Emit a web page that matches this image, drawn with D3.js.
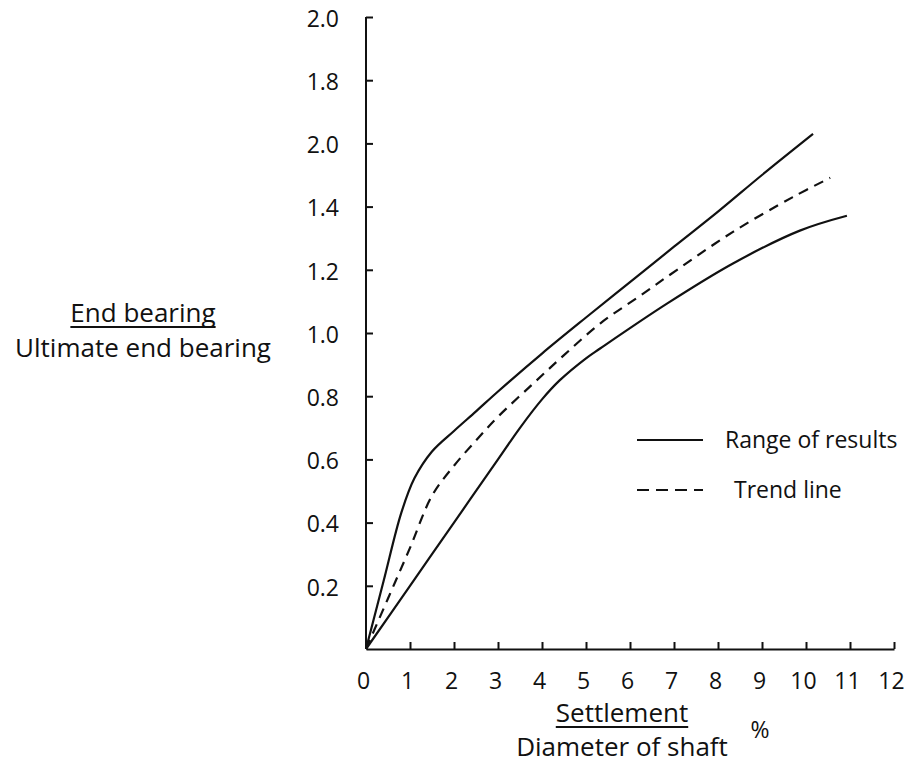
<!DOCTYPE html>
<html>
<head>
<meta charset="utf-8">
<script src="https://cdn.jsdelivr.net/npm/d3@7"></script>
<style>
  html, body { margin: 0; padding: 0; background: #fff; }
  svg { display: block; }
  text { font-family: "Open Sans", Lato, sans-serif; fill: #111; }
</style>
</head>
<body>
<svg id="chart" width="920" height="764"></svg>
<script>
// Settlement / shaft diameter (%) against mobilised end bearing ratio
const upperX = [0, 0.4, 0.8, 1.1, 1.5, 2.0, 2.5, 3.0, 4.0, 5.0, 6.0, 7.0, 8.0, 9.0, 10.16];
const upperY = [0, 0.215, 0.43, 0.54, 0.625, 0.69, 0.752, 0.815, 0.935, 1.049, 1.161, 1.273, 1.384, 1.5, 1.63];

const trendX = [0, 0.5, 1.0, 1.5, 2.0, 2.5, 3.0, 3.8, 4.5, 5.32, 6.2, 7.07, 8.34, 9.7, 10.55];
const trendY = [0, 0.16, 0.32, 0.485, 0.58, 0.66, 0.735, 0.84, 0.93, 1.03, 1.115, 1.2, 1.32, 1.43, 1.491];

const lowerX = [0, 1.0, 2.0, 3.0, 3.5, 4.0, 4.4, 5.0, 5.32, 6.84, 8.34, 9.86, 10.93];
const lowerY = [0, 0.2, 0.4, 0.6, 0.7, 0.79, 0.85, 0.92, 0.951, 1.093, 1.22, 1.324, 1.371];

const xTickValues = [0, 1, 2, 3, 4, 5, 6, 7, 8, 9, 10, 11, 12];
const yTickValues = [0.2, 0.4, 0.6, 0.8, 1.0, 1.2, 1.4, 1.6, 1.8, 2.0];
const yTickLabels = ["0.2", "0.4", "0.6", "0.8", "1.0", "1.2", "1.4", "2.0", "1.8", "2.0"];

const legendItems = [
  { label: "Range of results", dash: null, textX: 88 },
  { label: "Trend line", dash: "12,7", textX: 97 }
];

const svg = d3.select("#chart");
const x = d3.scaleLinear().domain([0, 12]).range([366, 894]);
const y = d3.scaleLinear().domain([0, 2.0]).range([649, 17]);

// y axis: ticks point inward, labels on the left
const yAxis = d3.axisLeft(y)
  .tickValues(yTickValues)
  .tickFormat((d, i) => yTickLabels[i])
  .tickSizeInner(-7)
  .tickSizeOuter(0)
  .tickPadding(27);
const gy = svg.append("g").attr("transform", `translate(${x(0)},0)`).call(yAxis);
gy.select(".domain").attr("d", `M0,${y(0)}V${y(2.0)}`);
gy.selectAll("text").style("font-size", "23px").attr("dy", "0.4em");

// x axis: ticks point upward, labels below
const xAxis = d3.axisBottom(x)
  .tickValues(xTickValues)
  .tickSizeInner(-7)
  .tickSizeOuter(0)
  .tickPadding(24);
const gx = svg.append("g").attr("transform", `translate(0,${y(0)})`).call(xAxis);
gx.selectAll("text").style("font-size", "23px").attr("dx", "-3");
gx.selectAll(".tick").filter(d => d === 0).select("line").remove();

svg.selectAll(".domain, .tick line").attr("stroke", "#111").attr("stroke-width", 2);

// curves
const line = d3.line()
  .x(d => x(d[0]))
  .y(d => y(d[1]))
  .curve(d3.curveCatmullRom.alpha(0.5));
const series = [
  { xs: upperX, ys: upperY, dash: null },
  { xs: lowerX, ys: lowerY, dash: null },
  { xs: trendX, ys: trendY, dash: "10,7" }
];
svg.append("g").selectAll("path")
  .data(series)
  .join("path")
  .attr("d", s => line(s.xs.map((v, i) => [v, s.ys[i]])))
  .attr("fill", "none")
  .attr("stroke", "#111")
  .attr("stroke-width", 2.2)
  .attr("stroke-dasharray", s => s.dash);

// legend
const lg = svg.append("g").attr("transform", "translate(637,440)");
const li = lg.selectAll("g").data(legendItems).join("g")
  .attr("transform", (d, i) => `translate(0,${i * 50})`);
li.append("line")
  .attr("x1", 0).attr("x2", 66).attr("y1", 0).attr("y2", 0)
  .attr("stroke", "#111").attr("stroke-width", 2)
  .attr("stroke-dasharray", d => d.dash);
li.append("text")
  .attr("x", d => d.textX)
  .attr("y", 0).attr("dy", "0.36em")
  .style("font-size", "23px")
  .text(d => d.label);

// axis titles (ratio written as numerator over denominator)
function ratioTitle(cx, topBaseline, gap, num, den, size) {
  const t1 = svg.append("text")
    .attr("x", cx).attr("y", topBaseline)
    .attr("text-anchor", "middle")
    .style("font-size", size + "px")
    .text(num);
  const w = t1.node().getComputedTextLength();
  svg.append("line")
    .attr("x1", cx - w / 2).attr("x2", cx + w / 2)
    .attr("y1", topBaseline + 5).attr("y2", topBaseline + 5)
    .attr("stroke", "#111").attr("stroke-width", 2);
  svg.append("text")
    .attr("x", cx).attr("y", topBaseline + gap)
    .attr("text-anchor", "middle")
    .style("font-size", size + "px")
    .text(den);
}
ratioTitle(143, 322, 35, "End bearing", "Ultimate end bearing", 26);
ratioTitle(622, 722, 34, "Settlement", "Diameter of shaft", 26);

svg.append("text")
  .attr("x", 760).attr("y", 730).attr("dy", "0.36em")
  .attr("text-anchor", "middle")
  .style("font-size", "23px")
  .text("%");
</script>
</body>
</html>
